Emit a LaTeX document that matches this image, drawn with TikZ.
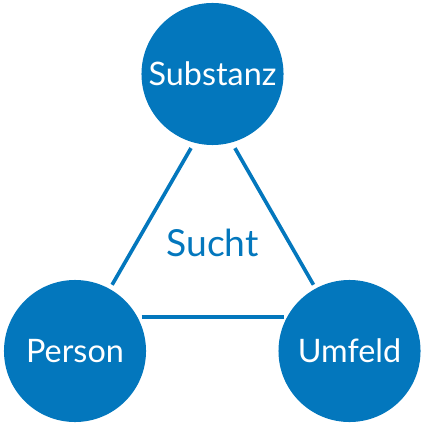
\documentclass[tikz,border=0pt]{standalone}
\usepackage{fontspec}
\setmainfont{Lato}
\usepackage{tikz}
\usetikzlibrary{shapes.geometric, arrows}
\definecolor{suchtblue}{RGB}{3,119,189}
\begin{document}
\begin{tikzpicture}[x=0.025cm, y=-0.025cm]
        % Define the styles
        \tikzstyle{factor}=[circle, fill=suchtblue, text=white, minimum size=3.55cm, inner sep=0pt, font=\fontsize{23}{27}\selectfont]
        \tikzstyle{side}=[draw=suchtblue, line width=2.6pt]
        
        \useasboundingbox (0,0) rectangle (425,425);
        
        % Define the nodes
        \node[factor] (substanz) at (212.5,74) {Substanz};
        \node[factor] (person) at (75,351) {Person};
        \node[factor] (umfeld) at (349.5,351) {Umfeld};
        \node[text=suchtblue, font=\fontsize{26.5}{31}\selectfont] (sucht) at (212.5,243) {Sucht};
        
        % Define the corners of the triangle
        \coordinate (top) at (213,110);
        \coordinate (left) at (93.5,317);
        \coordinate (right) at (332,317);
        
        % Define the sides
        \draw[side, shorten <=1.1cm, shorten >=0.93cm] (top) -- (left);
        \draw[side, shorten <=1.1cm, shorten >=0.93cm] (top) -- (right);
        \draw[side, shorten <=1.2cm, shorten >=1.2cm] (left) -- (right);
    \end{tikzpicture}
\end{document}
